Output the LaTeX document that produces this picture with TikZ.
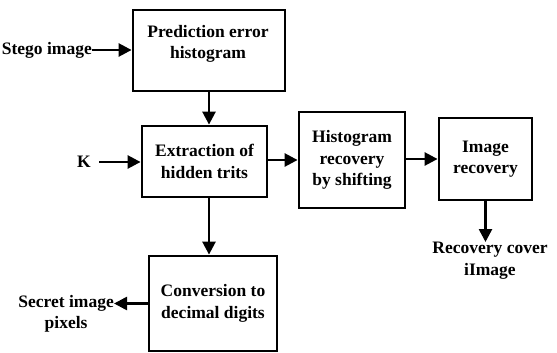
\documentclass[tikz,border=0pt]{standalone}
\usepackage{fontspec}
\setmainfont{Liberation Serif}
\usetikzlibrary{arrows.meta}
\begin{document}
\begin{tikzpicture}[x=1pt,y=-1pt,
  font=\fontsize{17.5}{21.5}\selectfont\bfseries,
  blk/.style={draw, line width=2.8pt, inner sep=0pt, align=center},
  lbl/.style={align=center, inner sep=0pt},
  arr/.style={line width=2.6pt, -{Triangle[length=13pt,width=13pt]}}]
\useasboundingbox (0,0) rectangle (557,353);
% processing blocks
\node[blk, minimum width=152pt, minimum height=81pt] (pehist) at (209,50.5) {};
\node[lbl] (pehistText) at (208,44) {Prediction error\\histogram};
\node[blk, minimum width=125pt, minimum height=71pt] (extract) at (204.5,161.5) {Extraction of\\hidden trits};
\node[blk, minimum width=106pt, minimum height=96pt] (histrec) at (352,160) {Histogram\\recovery\\by shifting};
\node[blk, minimum width=93pt, minimum height=82pt] (imgrec) at (485.5,159) {Image\\recovery};
\node[blk, minimum width=128pt, minimum height=95pt] (convert) at (213,303.5) {Conversion to\\decimal digits};
% inputs and outputs
\node[lbl, anchor=east] (stego) at (92,50) {Stego image};
\node[lbl, anchor=east] (key) at (91,162) {K};
\node[lbl, anchor=north] (cover) at (490,242) {Recovery cover\\iImage};
\node[lbl, anchor=north east] (secret) at (114,295) {Secret image\\pixels};
% connectors
\draw[arr] (stego.east) -- (pehist.west |- stego.east);
\draw[arr] ([xshift=8pt]key.east) -- (extract.west |- key.east);
\draw[arr] (pehist.south) -- (pehist.south |- extract.north);
\draw[arr] (extract.east |- histrec.west) -- (histrec.west);
\draw[arr] (histrec.east |- imgrec.west) -- (imgrec.west);
\draw[arr] (imgrec.south) -- (imgrec.south |- cover.north);
\draw[arr] (pehist.south |- extract.south) -- (pehist.south |- convert.north);
\draw[arr] (convert.west) -- (convert.west -| secret.east);
\end{tikzpicture}
\end{document}
